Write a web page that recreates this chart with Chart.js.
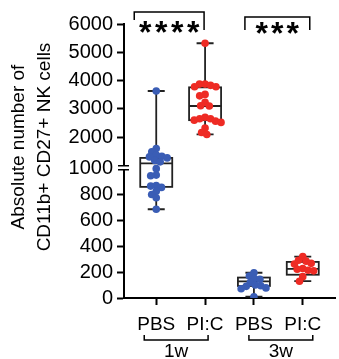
<!DOCTYPE html>
<html>
<head>
    <title>CD11b+ CD27+ NK cells</title>
    <script src="https://cdn.jsdelivr.net/npm/chart.js@4.4.0/dist/chart.umd.min.js"></script>
    <style>
        body { margin: 0; background: #fff; }
    </style>
</head>
<body>
    <div style="width: 339px; height: 359px;">
        <canvas id="ctx"></canvas>
    </div>
    <script>
        // x axis groups
        const treatments = ['PBS', 'PI:C', 'PBS', 'PI:C'];
        const timepoints = ['1w', '3w'];
        const groupPos = [1, 2, 3, 4];

        // absolute number of CD11b+ CD27+ NK cells, one value per mouse
        const pbs1w = [3630, 1600, 1480, 1365, 1325, 1300, 1265, 1175, 1125, 1000, 950, 945, 870, 865, 855, 825, 800, 775, 686];
        const pic1w = [5320, 3875, 3875, 3830, 3780, 3780, 3510, 3460, 3230, 3110, 3100, 2700, 2650, 2650, 2600, 2565, 2520, 2320, 2165, 2095];
        const pbs3w = [195, 170, 150, 145, 120, 100, 95, 90, 78, 72, 10];
        const pic3w = [320, 292, 285, 268, 262, 228, 222, 215, 210, 165, 130];

        // box plots: min, q1, median, q3, max
        const boxPbs1w = [686, 859, 1070, 1265, 3630];
        const boxPic1w = [2095, 2600, 3100, 3760, 5320];
        const boxPbs3w = [10, 93, 129, 158, 195];
        const boxPic3w = [130, 180, 225, 279, 320];

        const yTickValues = [0, 200, 400, 600, 800, 1000, 2000, 3000, 4000, 5000, 6000];
        const stars = ['****', '***'];

        const series = [pbs1w, pic1w, pbs3w, pic3w];
        const boxes = [boxPbs1w, boxPic1w, boxPbs3w, boxPic3w];
        const BLUE = '#3a5db5', RED = '#ee2b24';
        const colors = [BLUE, RED, BLUE, RED];
        const FONT = '"Liberation Sans", Arial, sans-serif';

        // broken y axis: 0-1000 linear, then compressed 1000-6000 above a small gap
        const BREAK = 1000, GAP = 25, UPPER = 0.2186;
        const T = v => v <= BREAK ? v : BREAK + GAP + (v - BREAK) * UPPER;

        const decor = {
            id: 'decor',
            beforeDatasetsDraw(chart) {
                const c = chart.ctx, xs = chart.scales.x, ys = chart.scales.y;
                c.save();
                c.strokeStyle = '#222';
                c.lineWidth = 1.8;
                boxes.forEach((b, i) => {
                    const cx = xs.getPixelForValue(groupPos[i]);
                    const p = b.map(v => ys.getPixelForValue(T(v)));
                    c.strokeRect(cx - 16, p[3], 32, p[1] - p[3]);
                    c.beginPath();
                    c.moveTo(cx - 16, p[2]); c.lineTo(cx + 16, p[2]);
                    c.moveTo(cx, p[3]); c.lineTo(cx, p[4]);
                    c.moveTo(cx, p[1]); c.lineTo(cx, p[0]);
                    c.moveTo(cx - 8.5, p[4]); c.lineTo(cx + 8.5, p[4]);
                    c.moveTo(cx - 8.5, p[0]); c.lineTo(cx + 8.5, p[0]);
                    c.stroke();
                });
                c.restore();
            },
            afterDraw(chart) {
                const c = chart.ctx, xs = chart.scales.x, ys = chart.scales.y;
                const px = i => xs.getPixelForValue(groupPos[i]);
                c.save();

                // axis break
                const yb = ys.getPixelForValue(BREAK) - 1;
                const ax = chart.chartArea.left;
                c.fillStyle = '#fff';
                c.fillRect(ax - 3, yb - 2, 6, 4);
                c.strokeStyle = '#000';
                c.lineWidth = 1.5;
                c.beginPath();
                c.moveTo(ax - 6, yb - 2); c.lineTo(ax + 5, yb - 2);
                c.moveTo(ax - 6, yb + 2); c.lineTo(ax + 5, yb + 2);
                c.stroke();

                // y title
                c.fillStyle = '#000';
                c.font = '19px ' + FONT;
                c.textAlign = 'center';
                c.textBaseline = 'middle';
                c.translate(19, 147);
                c.rotate(-Math.PI / 2);
                c.fillText('Absolute number of', 0, 0);
                c.fillText('CD11b+ CD27+ NK cells', 0, 26);
                c.restore();

                c.save();
                c.strokeStyle = '#000';
                c.fillStyle = '#000';
                c.lineWidth = 1.5;

                // significance brackets
                const sig = [
                    { l: px(0) - 22, r: px(1) - 1, top: 12, dl: 20, dr: 30, pitch: 16 },
                    { l: px(2) - 9, r: px(3) + 7, top: 17, dl: 30, dr: 30, pitch: 15.5 }
                ];
                sig.forEach((s, k) => {
                    c.beginPath();
                    c.moveTo(s.l, s.dl); c.lineTo(s.l, s.top); c.lineTo(s.r, s.top); c.lineTo(s.r, s.dr);
                    c.stroke();
                    c.font = 'bold 32px ' + FONT;
                    c.textAlign = 'center';
                    c.textBaseline = 'alphabetic';
                    const m = c.measureText('*');
                    const base = 27 + k * 0.5 + (m.actualBoundingBoxAscent - m.actualBoundingBoxDescent) / 2;
                    const n = stars[k].length, mid = (s.l + s.r) / 2;
                    for (let j = 0; j < n; j++) {
                        c.fillText(stars[k][j], mid + (j - (n - 1) / 2) * s.pitch, base);
                    }
                });

                // time point brackets
                const grp = [
                    { l: px(0) - 12, r: px(1) + 3 },
                    { l: px(2) - 5, r: px(3) + 10 }
                ];
                c.font = '19px ' + FONT;
                c.textAlign = 'center';
                c.textBaseline = 'alphabetic';
                grp.forEach((g, k) => {
                    c.beginPath();
                    c.moveTo(g.l, 335); c.lineTo(g.l, 340); c.lineTo(g.r, 340); c.lineTo(g.r, 335);
                    c.stroke();
                    c.fillText(timepoints[k], (g.l + g.r) / 2, 357);
                });
                c.restore();
            }
        };

        const chart = new Chart(document.getElementById('ctx'), {
            type: 'scatter',
            data: {
                datasets: series.map((vals, i) => ({
                    data: vals.map(v => ({ x: groupPos[i], y: T(v) })),
                    backgroundColor: colors[i],
                    borderWidth: 0,
                    pointRadius: 3.8
                }))
            },
            options: {
                responsive: true,
                maintainAspectRatio: false,
                animation: false,
                layout: { padding: { top: 24, right: 0, bottom: 0, left: 0 } },
                plugins: {
                    legend: { display: false },
                    tooltip: { enabled: false }
                },
                scales: {
                    x: {
                        type: 'linear',
                        min: 0.34,
                        max: 4.66,
                        afterBuildTicks: s => { s.ticks = groupPos.map(v => ({ value: v })); },
                        afterFit: s => { s.height = 61; },
                        ticks: {
                            callback: (v, i) => treatments[i],
                            autoSkip: false,
                            maxRotation: 0,
                            padding: 8,
                            color: '#000',
                            font: { family: FONT, size: 19 }
                        },
                        grid: { drawOnChartArea: false, tickLength: 7, tickWidth: 2, tickColor: '#000' },
                        border: { color: '#000', width: 2 }
                    },
                    y: {
                        min: 0,
                        max: T(6000),
                        afterBuildTicks: s => { s.ticks = yTickValues.map(v => ({ value: T(v) })); },
                        afterFit: s => { s.width = 124; },
                        ticks: {
                            callback: (v, i) => yTickValues[i],
                            padding: 4,
                            color: '#000',
                            font: { family: FONT, size: 20 }
                        },
                        grid: {
                            drawOnChartArea: false,
                            tickLength: 7,
                            tickWidth: 2,
                            tickColor: ctx => yTickValues[ctx.index] === BREAK ? 'rgba(0,0,0,0)' : '#000'
                        },
                        border: { color: '#000', width: 2 }
                    }
                }
            },
            plugins: [decor]
        });

        // spread the dots sideways like a scatter dot plot (beeswarm, no randomness)
        function swarm(chart) {
            const xs = chart.scales.x, ys = chart.scales.y;
            const unit = xs.getPixelForValue(1) - xs.getPixelForValue(0);
            const D = 5.6;
            chart.data.datasets.forEach((ds, i) => {
                const pts = series[i].map(v => ({ v: v, py: ys.getPixelForValue(T(v)) }));
                pts.sort((a, b) => a.py - b.py);
                const placed = [];
                pts.forEach(p => {
                    const near = placed.filter(q => Math.abs(q.py - p.py) < D);
                    const cands = [0];
                    near.forEach(q => {
                        const w = Math.sqrt(D * D - (q.py - p.py) ** 2);
                        cands.push(q.dx - w, q.dx + w);
                    });
                    cands.sort((a, b) => Math.abs(a) - Math.abs(b));
                    p.dx = cands.find(cx => near.every(q => Math.hypot(cx - q.dx, p.py - q.py) >= D - 0.01));
                    placed.push(p);
                });
                ds.data = placed.map(p => ({ x: groupPos[i] + p.dx / unit, y: T(p.v) }));
            });
            chart.update('none');
        }
        swarm(chart);
    </script>
</body>
</html>
